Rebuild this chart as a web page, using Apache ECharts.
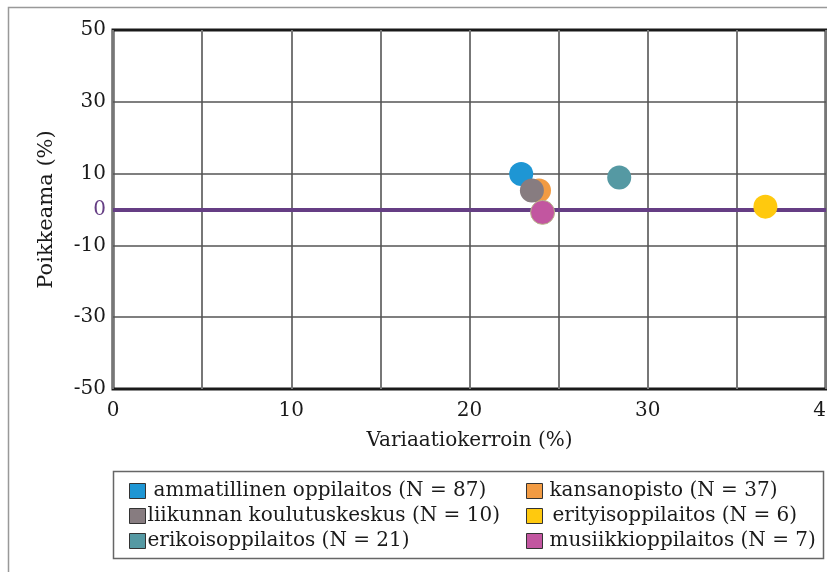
<!DOCTYPE html>
<html>
<head>
<meta charset="utf-8">
<script src="https://cdn.jsdelivr.net/npm/echarts@6/dist/echarts.min.js"></script>
<style>
  html, body { margin: 0; padding: 0; background: #fff; }
  #main { width: 827px; height: 572px; }
</style>
</head>
<body>
<div id="main"></div>
<script>
// data: [variaatiokerroin, poikkeama]
var seriesNames = [
  'ammatillinen oppilaitos (N = 87)',
  'kansanopisto (N = 37)',
  'liikunnan koulutuskeskus (N = 10)',
  'erityisoppilaitos (N = 6)',
  'erikoisoppilaitos (N = 21)',
  'musiikkioppilaitos (N = 7)'
];
var seriesColors = ['#1e96d4', '#f29b43', '#877c80', '#ffc90e', '#5599a3', '#c256a0'];
var points = [
  [22.9, 9.9],
  [23.9, 5.3],
  [23.5, 5.3],
  [36.6, 0.8],
  [28.4, 8.9],
  [24.1, -0.8]
];
var yGridValues = [-30, -10, 10, 30];
var yLabelValues = [-50, -30, -10, 0, 10, 30, 50];
var xLabelValues = [0, 10, 20, 30, 40];

var font = 'DejaVu Serif';
var chart = echarts.init(document.getElementById('main'));

var series = seriesNames.map(function (name, i) {
  return {
    name: name,
    type: 'scatter',
    z: 10,
    symbolSize: 24,
    itemStyle: {
      color: seriesColors[i], opacity: 1,
      borderColor: i === 5 ? '#b9b48a' : seriesColors[i], borderWidth: i === 5 ? 1 : 0
    },
    data: [points[i]]
  };
});

// grid lines and zero line
series.push({
  type: 'line',
  z: 1,
  data: [],
  markLine: {
    silent: true,
    symbol: 'none',
    z: 1,
    label: { show: false },
    data: yGridValues.map(function (v) {
      return { yAxis: v, lineStyle: { color: '#555', width: 1.5, type: 'solid' } };
    }).concat([{ yAxis: 0, lineStyle: { color: '#653e84', width: 4, type: 'solid' } }])
  }
});

var legendItem = function (names, left, pads) {
  return {
    orient: 'vertical',
    left: left,
    top: 476,
    itemWidth: 16,
    itemHeight: 15,
    itemGap: 5,
    icon: 'rect',
    selectedMode: false,
    itemStyle: { borderColor: '#333', borderWidth: 1 },
    textStyle: { fontFamily: font, fontSize: 20, color: '#1a1a1a' },
    data: names.map(function (n, k) {
      return { name: n, textStyle: { padding: [0, 0, 0, pads[k]] } };
    })
  };
};

chart.setOption({
  backgroundColor: '#fff',
  animation: false,
  textStyle: { fontFamily: font },
  grid: {
    left: 113, top: 30, right: 1, bottom: 183,
    outerBoundsMode: 'none',
    containLabel: false,
    show: true, borderColor: '#1a1a1a', borderWidth: 3
  },
  xAxis: {
    type: 'value',
    min: 0, max: 40, interval: 5,
    name: 'Variaatiokerroin (%)',
    nameLocation: 'middle',
    nameGap: 42,
    nameTextStyle: { fontFamily: font, fontSize: 20, color: '#1a1a1a' },
    axisLine: { show: false },
    axisTick: { show: false },
    splitLine: { show: true, lineStyle: { color: '#777', width: 2 } },
    axisLabel: {
      fontFamily: font, fontSize: 20, color: '#1a1a1a', margin: 12,
      formatter: function (v) { return xLabelValues.indexOf(v) >= 0 ? String(v) : ''; }
    }
  },
  yAxis: {
    type: 'value',
    min: -50, max: 50, interval: 10,
    name: 'Poikkeama (%)',
    nameLocation: 'middle',
    nameGap: 56,
    nameTextStyle: { fontFamily: font, fontSize: 21, color: '#1a1a1a' },
    axisLine: { show: false },
    axisTick: { show: false },
    splitLine: { show: false },
    axisLabel: {
      fontFamily: font, fontSize: 20, color: '#1a1a1a', margin: 7,
      formatter: function (v) {
        if (v === 0) return '{p|0}';
        return yLabelValues.indexOf(v) >= 0 ? String(v) : '';
      },
      rich: { p: { color: '#653e84', fontFamily: font, fontSize: 20 } }
    }
  },
  legend: [
    legendItem([seriesNames[0], seriesNames[2], seriesNames[4]], 124, [3, -3, -3]),
    legendItem([seriesNames[1], seriesNames[3], seriesNames[5]], 521, [2, 5, 2])
  ],
  graphic: [
    { type: 'rect', shape: { x: 8.5, y: 7.5, width: 900, height: 700 },
      style: { fill: 'none', stroke: '#999', lineWidth: 1.5 }, silent: true, z: -1 },
    { type: 'rect', shape: { x: 113.5, y: 471.5, width: 710, height: 87 },
      style: { fill: 'none', stroke: '#666', lineWidth: 1.5 }, silent: true }
  ],
  series: series
});
</script>
</body>
</html>
